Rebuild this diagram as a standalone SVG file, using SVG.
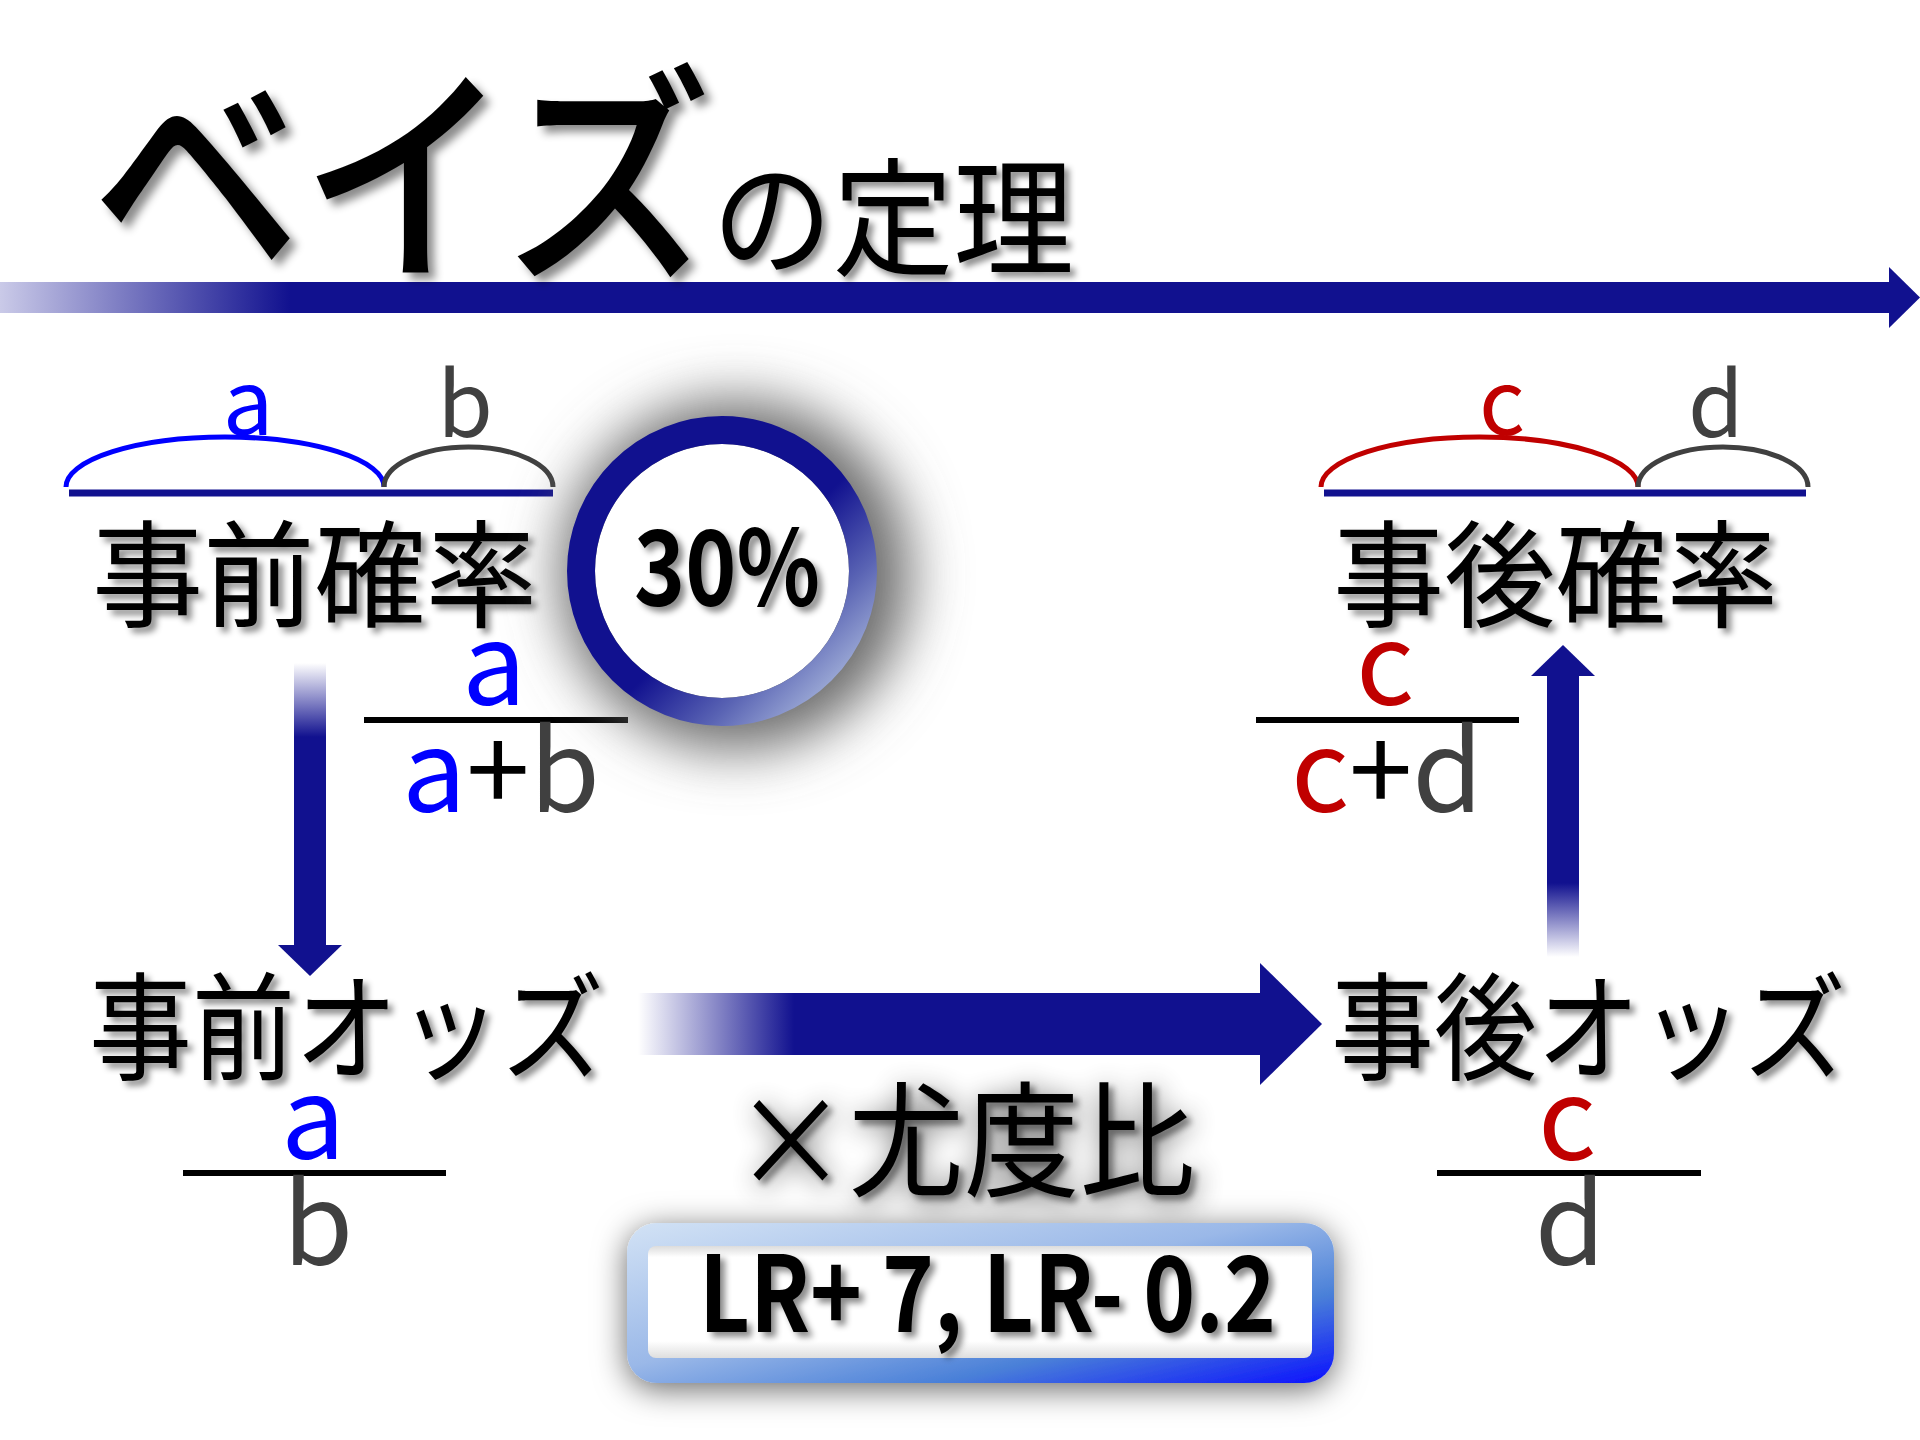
<svg xmlns="http://www.w3.org/2000/svg" width="1920" height="1440" viewBox="0 0 1920 1440">
<defs>
<style>
.jp{font-family:"Noto Sans CJK JP","Noto Sans CJK SC",sans-serif;fill:#000}
.lt{font-family:"Noto Sans CJK JP","Noto Sans",sans-serif}
.bd{font-family:"Noto Sans CJK JP","Noto Sans",sans-serif;font-weight:bold;fill:#000}
.blue{fill:#0000ff}.gray{fill:#404040}.red{fill:#c00000}.blk{fill:#000}
.fl{stroke:#000;stroke-width:6}
.ul{stroke:#11118f;stroke-width:7}
</style>
<filter id="sh" x="-10%" y="-30%" width="130%" height="170%">
<feDropShadow dx="5" dy="5" stdDeviation="3" flood-color="#000" flood-opacity="0.45"/>
</filter>
<filter id="shT" x="-10%" y="-30%" width="130%" height="170%">
<feDropShadow dx="7" dy="7" stdDeviation="4" flood-color="#000" flood-opacity="0.45"/>
</filter>
<filter id="haze" x="-20%" y="-50%" width="140%" height="200%">
<feGaussianBlur in="SourceAlpha" stdDeviation="14" result="b"/>
<feComponentTransfer in="b" result="b2"><feFuncA type="linear" slope="0.75"/></feComponentTransfer>
<feOffset in="b2" dx="4" dy="6" result="o"/>
<feDropShadow in="SourceGraphic" dx="5" dy="5" stdDeviation="3" flood-color="#000" flood-opacity="0.45" result="d"/>
<feMerge><feMergeNode in="o"/><feMergeNode in="d"/></feMerge>
</filter>
<filter id="blurC" x="-60%" y="-60%" width="220%" height="220%">
<feGaussianBlur stdDeviation="28"/>
</filter>
<filter id="boxSh" x="-15%" y="-50%" width="130%" height="200%">
<feDropShadow dx="0" dy="6" stdDeviation="16" flood-color="#000" flood-opacity="0.6"/>
</filter>
<linearGradient id="gTop" gradientUnits="userSpaceOnUse" x1="0" y1="0" x2="290" y2="0">
<stop offset="0" stop-color="#cacae8"/><stop offset="1" stop-color="#11118f"/>
</linearGradient>
<linearGradient id="gMid" gradientUnits="userSpaceOnUse" x1="638" y1="0" x2="794" y2="0">
<stop offset="0" stop-color="#ffffff"/><stop offset="1" stop-color="#11118f"/>
</linearGradient>
<linearGradient id="gDown" gradientUnits="userSpaceOnUse" x1="0" y1="663" x2="0" y2="737">
<stop offset="0" stop-color="#ffffff"/><stop offset="1" stop-color="#11118f"/>
</linearGradient>
<linearGradient id="gUp" gradientUnits="userSpaceOnUse" x1="0" y1="883" x2="0" y2="957">
<stop offset="0" stop-color="#11118f"/><stop offset="1" stop-color="#ffffff"/>
</linearGradient>
<linearGradient id="gRing" x1="0" y1="0" x2="1" y2="1">
<stop offset="0" stop-color="#11118f"/><stop offset="0.55" stop-color="#11118f"/><stop offset="0.75" stop-color="#5a64b4"/><stop offset="1" stop-color="#c8d8ec"/>
</linearGradient>
<linearGradient id="gBox" x1="0" y1="0" x2="1" y2="1">
<stop offset="0" stop-color="#d2e2f5"/><stop offset="0.45" stop-color="#9ab8e8"/><stop offset="0.72" stop-color="#4a80d8"/><stop offset="1" stop-color="#0a10ff"/>
</linearGradient>
<linearGradient id="gInner" x1="0" y1="0" x2="0" y2="1">
<stop offset="0" stop-color="#dcdcdc"/><stop offset="0.1" stop-color="#ffffff"/><stop offset="0.85" stop-color="#ffffff"/><stop offset="1" stop-color="#dedede"/>
</linearGradient>
</defs>
<rect width="1920" height="1440" fill="#fff"/>

<g id="connectors">
<g id="arrow-top">
<rect x="0" y="282" width="1890" height="31" fill="url(#gTop)"/>
<polygon points="1889,267 1920,297.5 1889,328" fill="#11118f"/>
</g>
<g id="arrow-down">
<rect x="294" y="663" width="32" height="283" fill="url(#gDown)"/>
<polygon points="278,945 342,945 310,976" fill="#11118f"/>
</g>
<g id="arrow-mid">
<rect x="638" y="993" width="623" height="62" fill="url(#gMid)"/>
<polygon points="1260,963 1322,1024 1260,1085" fill="#11118f"/>
</g>
<g id="arrow-up">
<rect x="1547" y="675" width="32" height="282" fill="url(#gUp)"/>
<polygon points="1531,676 1595,676 1563,645" fill="#11118f"/>
</g>
</g>

<g id="title">
<text class="jp" x="92" y="264" font-size="235" font-weight="500" textLength="620" lengthAdjust="spacingAndGlyphs" filter="url(#shT)">ベイズ</text>
<text class="jp" x="712" y="266" font-size="128" textLength="362" lengthAdjust="spacingAndGlyphs" filter="url(#sh)">の定理</text>
</g>

<g id="prior-prob">
<path d="M66,487 A159,50 0 0 1 384,487" fill="none" stroke="#0000ff" stroke-width="5"/>
<path d="M384,487 A84.5,40 0 0 1 553,487" fill="none" stroke="#404040" stroke-width="5"/>
<line class="ul" x1="69" y1="493" x2="553" y2="493"/>
<text class="lt blue" x="248" y="435" font-size="90" text-anchor="middle">a</text>
<text class="lt gray" x="465" y="437" font-size="90" text-anchor="middle">b</text>
<text class="jp" x="92" y="618" font-size="116" textLength="445" lengthAdjust="spacingAndGlyphs" filter="url(#sh)">事前確率</text>
<text class="lt blue" x="494" y="705" font-size="114" text-anchor="middle">a</text>
<line class="fl" x1="364" y1="720" x2="628" y2="720"/>
<text class="lt" x="501" y="812" font-size="114" text-anchor="middle"><tspan class="blue">a</tspan><tspan class="blk">+</tspan><tspan class="gray">b</tspan></text>
</g>

<g id="badge-30">
<circle cx="735" cy="575" r="175" fill="#6a6a6a" filter="url(#blurC)"/>
<circle cx="722" cy="571" r="127" fill="#fff"/>
<circle cx="722" cy="571" r="141" fill="none" stroke="url(#gRing)" stroke-width="28"/>
<text class="bd" x="634" y="606" font-size="105" textLength="186" lengthAdjust="spacingAndGlyphs" filter="url(#sh)">30%</text>
</g>

<g id="posterior-prob">
<path d="M1321,487 A158.5,50 0 0 1 1638,487" fill="none" stroke="#c00000" stroke-width="5"/>
<path d="M1638,487 A85,40 0 0 1 1808,487" fill="none" stroke="#404040" stroke-width="5"/>
<line class="ul" x1="1324" y1="493" x2="1806" y2="493"/>
<text class="lt red" x="1502" y="435" font-size="90" text-anchor="middle">c</text>
<text class="lt gray" x="1716" y="437" font-size="90" text-anchor="middle">d</text>
<text class="jp" x="1333" y="618" font-size="116" textLength="445" lengthAdjust="spacingAndGlyphs" filter="url(#sh)">事後確率</text>
<text class="lt red" x="1385" y="705" font-size="114" text-anchor="middle">c</text>
<line class="fl" x1="1256" y1="720" x2="1519" y2="720"/>
<text class="lt" x="1387" y="812" font-size="114" text-anchor="middle"><tspan class="red">c</tspan><tspan class="blk">+</tspan><tspan class="gray">d</tspan></text>
</g>

<g id="prior-odds">
<text class="jp" x="89" y="1071" font-size="117" textLength="515" lengthAdjust="spacingAndGlyphs" filter="url(#sh)">事前オッズ</text>
<text class="lt blue" x="313" y="1159" font-size="114" text-anchor="middle">a</text>
<line class="fl" x1="183" y1="1173" x2="446" y2="1173"/>
<text class="lt gray" x="318" y="1265" font-size="114" text-anchor="middle">b</text>
</g>

<g id="posterior-odds">
<text class="jp" x="1331" y="1071" font-size="117" textLength="515" lengthAdjust="spacingAndGlyphs" filter="url(#sh)">事後オッズ</text>
<text class="lt red" x="1567" y="1160" font-size="114" text-anchor="middle">c</text>
<line class="fl" x1="1437" y1="1173" x2="1701" y2="1173"/>
<text class="lt gray" x="1570" y="1265" font-size="114" text-anchor="middle">d</text>
</g>

<g id="likelihood">
<text class="jp" x="733" y="1187" font-size="125" textLength="462" lengthAdjust="spacingAndGlyphs" filter="url(#haze)">×尤度比</text>
</g>

<g id="lr-box">
<rect x="627" y="1223" width="707" height="160" rx="30" fill="url(#gBox)" filter="url(#boxSh)"/>
<rect x="648" y="1246" width="664" height="112" rx="8" fill="url(#gInner)"/>
<text class="bd" x="699" y="1332" font-size="105" textLength="577" lengthAdjust="spacingAndGlyphs" filter="url(#sh)">LR+ 7, LR- 0.2</text>
</g>
</svg>
